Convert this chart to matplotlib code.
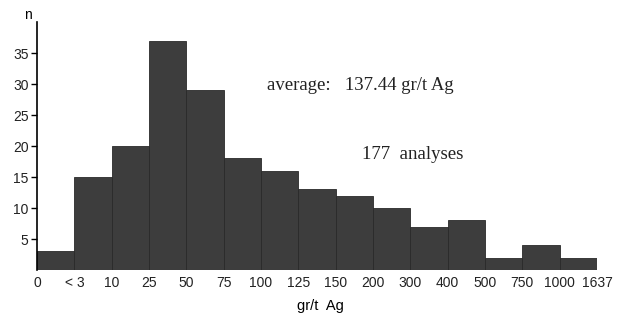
import matplotlib.pyplot as plt
import numpy as np

bin_labels = ["0", "< 3", "10", "25", "50", "75", "100", "125", "150",
              "200", "300", "400", "500", "750", "1000", "1637"]
counts = [3, 15, 20, 37, 29, 18, 16, 13, 12, 10, 7, 8, 2, 4, 2]

fig = plt.figure(figsize=(6.17, 3.2), dpi=100)
ax = fig.add_axes([0.06, 0.156, 0.9076, 0.775])

x = np.arange(len(counts))
ax.bar(x, counts, width=1.0, align='edge', color='#3d3d3d',
       edgecolor='#2a2a2a', linewidth=0.6)

ax.set_xlim(0, len(counts))
ax.set_ylim(0, 40)
ax.set_yticks([5, 10, 15, 20, 25, 30, 35])
ax.set_xticks(np.arange(len(bin_labels)))
ax.set_xticklabels(bin_labels)

for s in ['top', 'right', 'bottom']:
    ax.spines[s].set_visible(False)
ax.spines['left'].set_linewidth(1.2)
ax.tick_params(axis='y', length=4, width=1, labelsize=10, pad=2)
ax.tick_params(axis='x', length=0, labelsize=10, pad=4)
for lab in ax.get_xticklabels() + ax.get_yticklabels():
    lab.set_fontfamily('Liberation Sans')
    lab.set_color('#222222')

fig.text(0.046, 0.94, "n", fontsize=10, family='Liberation Sans', ha='center')
fig.text(0.52, 0.03, "gr/t  Ag", fontsize=10.5, family='Liberation Sans', ha='center')
fig.text(0.432, 0.718, "average:   137.44 gr/t Ag", fontsize=13.5, family='Liberation Serif',
         color='#222222')
fig.text(0.587, 0.503, "177  analyses", fontsize=13.5, family='Liberation Serif',
         color='#222222')

fig.savefig("out.png", dpi=100)
